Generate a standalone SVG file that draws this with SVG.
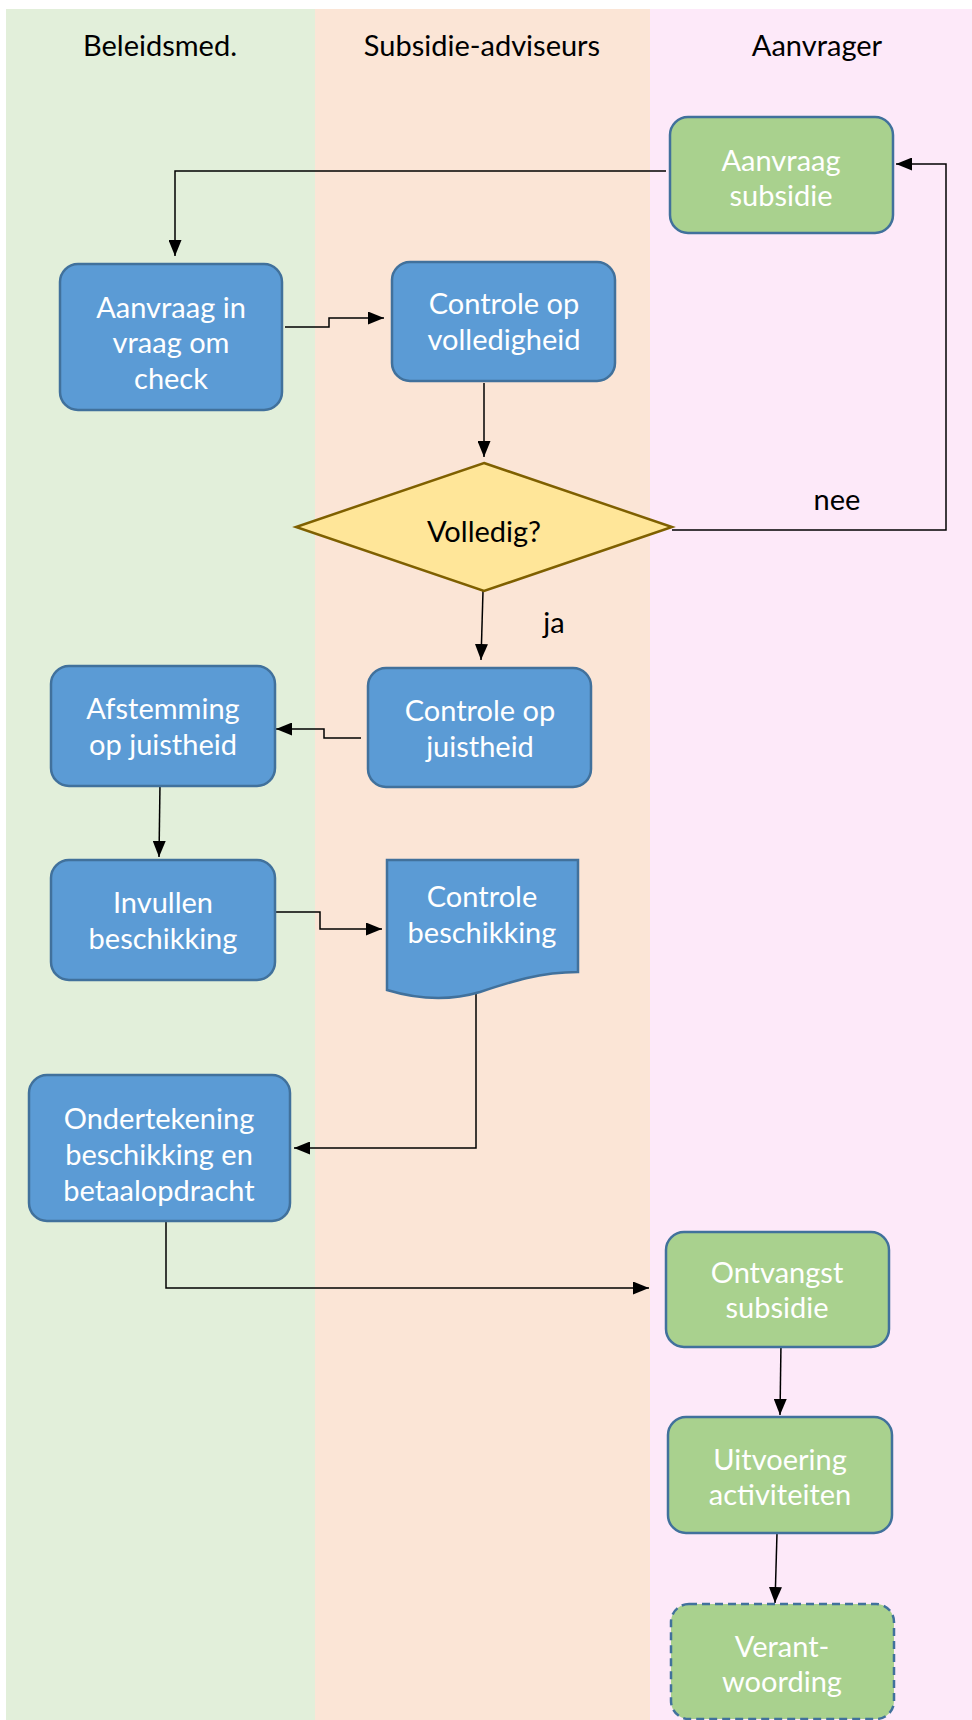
<svg xmlns="http://www.w3.org/2000/svg" width="972" height="1720" viewBox="0 0 972 1720">
<style>
.node{stroke:#41719C;stroke-width:2.5}
.blue{fill:#5B9BD5}
.green{fill:#A9D18E}
.t{font-family:Lato,"Liberation Sans",sans-serif;font-size:29px;fill:#ffffff;text-anchor:middle}
.h{font-family:Lato,"Liberation Sans",sans-serif;font-size:29px;fill:#000000;text-anchor:middle}
.c{fill:none;stroke:#000000;stroke-width:1.5;marker-end:url(#arr)}
</style>
<defs>
<marker id="arr" markerUnits="userSpaceOnUse" markerWidth="16" markerHeight="13" refX="16" refY="6.5" orient="auto">
<path d="M0,0 L16,6.5 L0,13 Z" fill="#000000"/>
</marker>
</defs>
<g id="lanes">
<rect x="6" y="9" width="309" height="1711" fill="#E2EFDA"/>
<rect x="315" y="9" width="335" height="1711" fill="#FBE5D6"/>
<rect x="650" y="9" width="322" height="1711" fill="#FDE9F9"/>
<text class="h" x="160" y="56">Beleidsmed.</text>
<text class="h" x="482" y="56">Subsidie-adviseurs</text>
<text class="h" x="817" y="56">Aanvrager</text>
</g>
<g id="connectors">
<path class="c" d="M666,171 H175 V256"/>
<path class="c" d="M285,327 H329 V318 H384"/>
<path class="c" d="M484,383 L484,457"/>
<path class="c" d="M672,530 H946 V164 H896"/>
<path class="c" d="M483,591 L481,660"/>
<path class="c" d="M361,738 H324 V729 H276"/>
<path class="c" d="M160,784 L159,857"/>
<path class="c" d="M275,912 H320 V929 H382"/>
<path class="c" d="M476,993 V1148 H294"/>
<path class="c" d="M166,1222 V1288 H649"/>
<path class="c" d="M781,1343 L780,1415"/>
<path class="c" d="M777,1533 L775,1603"/>
<text class="h" x="837" y="510">nee</text>
<text class="h" x="554" y="633">ja</text>
</g>
<g id="n1">
<rect class="node green" x="670" y="117" width="223" height="116" rx="18"/>
<text class="t" x="781" y="171">Aanvraag</text>
<text class="t" x="781" y="206">subsidie</text>
</g>
<g id="n2">
<rect class="node blue" x="60" y="264" width="222" height="146" rx="18"/>
<text class="t" x="171" y="318">Aanvraag in</text>
<text class="t" x="171" y="353">vraag om</text>
<text class="t" x="171" y="389">check</text>
</g>
<g id="n3">
<rect class="node blue" x="392" y="262" width="223" height="119" rx="18"/>
<text class="t" x="504" y="314">Controle op</text>
<text class="t" x="504" y="350">volledigheid</text>
</g>
<g id="n4">
<polygon points="484,463 672,527 484,591 296,527" fill="#FFE699" stroke="#7F6000" stroke-width="2.5"/>
<text class="h" x="484" y="542">Volledig?</text>
</g>
<g id="n5">
<rect class="node blue" x="368" y="668" width="223" height="119" rx="18"/>
<text class="t" x="480" y="721">Controle op</text>
<text class="t" x="480" y="757">juistheid</text>
</g>
<g id="n6">
<rect class="node blue" x="51" y="666" width="224" height="120" rx="18"/>
<text class="t" x="163" y="719">Afstemming</text>
<text class="t" x="163" y="755">op juistheid</text>
</g>
<g id="n7">
<rect class="node blue" x="51" y="860" width="224" height="120" rx="18"/>
<text class="t" x="163" y="913">Invullen</text>
<text class="t" x="163" y="949">beschikking</text>
</g>
<g id="n8">
<path class="node blue" d="M387,860 H578 V972 C540,972 510,982 480,992 C450,1001 420,1000 387,990 Z"/>
<text class="t" x="482" y="907">Controle</text>
<text class="t" x="482" y="943">beschikking</text>
</g>
<g id="n9">
<rect class="node blue" x="29" y="1075" width="261" height="146" rx="18"/>
<text class="t" x="159" y="1129">Ondertekening</text>
<text class="t" x="159" y="1165">beschikking en</text>
<text class="t" x="159" y="1201">betaalopdracht</text>
</g>
<g id="n10">
<rect class="node green" x="666" y="1232" width="223" height="115" rx="18"/>
<text class="t" x="777" y="1283">Ontvangst</text>
<text class="t" x="777" y="1318">subsidie</text>
</g>
<g id="n11">
<rect class="node green" x="668" y="1417" width="224" height="116" rx="18"/>
<text class="t" x="780" y="1470">Uitvoering</text>
<text class="t" x="780" y="1505">activiteiten</text>
</g>
<g id="n12">
<rect class="node green" x="671" y="1604" width="223" height="115" rx="18" stroke-dasharray="8 5"/>
<text class="t" x="782" y="1657">Verant-</text>
<text class="t" x="782" y="1692">woording</text>
</g>
</svg>
